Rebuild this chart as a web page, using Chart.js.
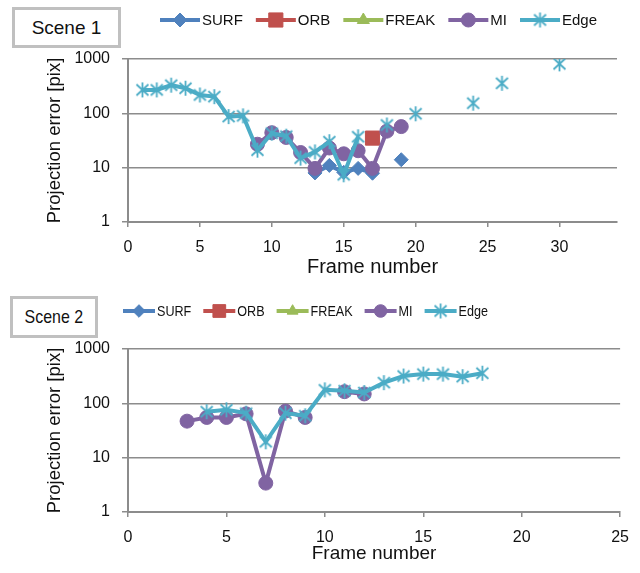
<!DOCTYPE html>
<html>
<head>
<meta charset="utf-8">
<script src="https://cdn.jsdelivr.net/npm/chart.js@4.4.0/dist/chart.umd.min.js"></script>
<style>
body { margin: 0; background: #fff; width: 640px; height: 573px; position: relative; overflow: hidden; font-family: "Liberation Sans", Arial, sans-serif; }
.wrap { position: absolute; left: 0; width: 640px; }
#w1 { top: 0; height: 285px; }
#w2 { top: 285px; height: 288px; }
.scene { position: absolute; border: 3px solid #c0c0c0; background: #fff; box-sizing: border-box; text-align: center; color: #111; }
#s1 { left: 12px; top: 7px; width: 109px; height: 41px; font-size: 19px; line-height: 35px; }
#s2 { left: 10px; top: 296px; width: 88px; height: 42px; font-size: 19px; line-height: 36px; }
#s2 span { display: inline-block; transform: scaleX(0.84); }
</style>
</head>
<body>
<div class="wrap" id="w1"><canvas id="c1" width="640" height="285"></canvas></div>
<div class="wrap" id="w2"><canvas id="c2" width="640" height="288"></canvas></div>
<div class="scene" id="s1">Scene 1</div>
<div class="scene" id="s2"><span>Scene 2</span></div>
<script>
// series names and colours
const seriesNames = ['SURF', 'ORB', 'FREAK', 'MI', 'Edge'];
const seriesColors = ['#4f81bd', '#c0504d', '#9bbb59', '#8064a2', '#4bacc6'];
const yTicks = [1, 10, 100, 1000];

// Scene 1 (frames 1..30)
const frames1 = [1, 2, 3, 4, 5, 6, 7, 8, 9, 10, 11, 12, 13, 14, 15, 16, 17, 18, 19, 20, 21, 22, 23, 24, 25, 26, 27, 28, 29, 30];
const surf1 = [null, null, null, null, null, null, null, null, null, null, null, null, 8, 11, 8.2, 9.7, 7.9, null, 14, null, null, null, null, null, null, null, null, null, null, null];
const orb1 = [null, null, null, null, null, null, null, null, null, null, null, null, null, null, null, null, 35, null, null, null, null, null, null, null, null, null, null, null, null, null];
const freak1 = [];
const mi1 = [null, null, null, null, null, null, null, null, 27, 44, 36, 19, 9.7, 23, 18, 20.5, 9.7, 47, 57, null, null, null, null, null, null, null, null, null, null, null];
const edge1 = [270, 270, 330, 290, 218, 203, 87, 90, 21, 43, 38, 15, 19.5, 30, 7.4, 37, null, 61, null, 98, null, null, null, 154, null, 357, null, null, null, 815];

// Scene 2 (frames 1..18)
const frames2 = [1, 2, 3, 4, 5, 6, 7, 8, 9, 10, 11, 12, 13, 14, 15, 16, 17, 18];
const surf2 = [];
const orb2 = [];
const freak2 = [];
const mi2 = [null, null, 47, 55, 55, 64, 3.4, 72, 55, null, 164, 149, null, null, null, null, null, null];
const edge2 = [null, null, null, 70, 76, 66, 19.6, 66, 59, 177, 170, 158, 240, 318, 345, 345, 310, 358];

function asterisk(color) {
    const c = document.createElement('canvas');
    c.width = 17; c.height = 17;
    const g = c.getContext('2d');
    g.strokeStyle = color;
    g.lineWidth = 1.8;
    g.beginPath();
    g.moveTo(8.5, 1); g.lineTo(8.5, 16);
    g.moveTo(2.5, 3); g.lineTo(14.5, 14);
    g.moveTo(14.5, 3); g.lineTo(2.5, 14);
    g.stroke();
    return c;
}

const styles = [
    { pointStyle: 'rectRot', pointRadius: 7 },
    { pointStyle: 'rect', pointRadius: 10 },
    { pointStyle: 'triangle', pointRadius: 7 },
    { pointStyle: 'circle', pointRadius: 7 },
    { pointStyle: asterisk(seriesColors[4]), pointRadius: 8 }
];

function makeDatasets(frames, lists) {
    return lists.map((vals, i) => ({
        label: seriesNames[i],
        data: frames.map((f, k) => ({ x: f, y: vals[k] === undefined ? null : vals[k] })),
        borderColor: seriesColors[i],
        backgroundColor: seriesColors[i],
        borderWidth: 4,
        pointBorderWidth: 1,
        pointStyle: styles[i].pointStyle,
        pointRadius: styles[i].pointRadius,
        pointHoverRadius: styles[i].pointRadius,
        spanGaps: false,
        tension: 0,
        order: 5 - i
    }));
}

// legend with line + marker, drawn like the spreadsheet one
const lineLegend = {
    id: 'lineLegend',
    afterDraw(chart, args, opts) {
        const ctx = chart.ctx;
        let x = opts.x;
        const y = opts.y;
        ctx.save();
        ctx.font = opts.font;
        ctx.textBaseline = 'middle';
        chart.data.datasets.forEach(ds => {
            ctx.strokeStyle = ds.borderColor;
            ctx.lineWidth = 4;
            ctx.beginPath();
            ctx.moveTo(x, y);
            ctx.lineTo(x + opts.lineLen, y);
            ctx.stroke();
            ctx.fillStyle = ds.backgroundColor;
            ctx.lineWidth = 1;
            Chart.helpers.drawPoint(ctx, { pointStyle: ds.pointStyle, radius: ds.pointRadius * opts.marker, borderWidth: 1, rotation: 0 }, x + opts.lineLen / 2, y);
            const tx = x + opts.lineLen + 2;
            ctx.fillStyle = '#111';
            ctx.save();
            ctx.translate(tx, y);
            ctx.scale(opts.squeeze, 1);
            ctx.fillText(ds.label, 0, 1);
            ctx.restore();
            x = tx + ctx.measureText(ds.label).width * opts.squeeze + opts.gap;
        });
        ctx.restore();
    }
};

Chart.defaults.font.family = '"Liberation Sans", Arial, sans-serif';
Chart.defaults.color = '#111';

function makeChart(id, frames, lists, cfg) {
    return new Chart(document.getElementById(id), {
        type: 'line',
        data: { datasets: makeDatasets(frames, lists) },
        plugins: [lineLegend],
        options: {
            responsive: false,
            animation: false,
            events: [],
            layout: { padding: { top: cfg.top, right: cfg.right, bottom: 0, left: 0 } },
            plugins: {
                legend: { display: false },
                tooltip: { enabled: false },
                lineLegend: cfg.legend
            },
            scales: {
                x: {
                    type: 'linear',
                    min: 0,
                    max: cfg.xMax,
                    ticks: { stepSize: 5, includeBounds: false, font: { size: 16 }, padding: 11, maxRotation: 0 },
                    grid: { drawOnChartArea: false, drawTicks: true, tickLength: 5, color: '#8c8c8c', lineWidth: 1.5 },
                    border: { display: true, color: '#8c8c8c', width: 2 },
                    title: { display: true, text: 'Frame number', font: { size: cfg.xTitleSize }, padding: { top: 0, bottom: cfg.titlePad } },
                    afterFit: s => { s.height = cfg.xHeight; }
                },
                y: {
                    type: 'logarithmic',
                    min: 1,
                    max: 1000,
                    afterBuildTicks: s => { s.ticks = yTicks.map(v => ({ value: v })); },
                    ticks: { callback: v => String(v), font: { size: 16 }, padding: 12 },
                    grid: { color: '#8c8c8c', lineWidth: 1.5, tickLength: 6 },
                    border: { display: true, color: '#8c8c8c', width: 2 },
                    title: { display: true, text: 'Projection error [pix]', font: { size: 18.5 }, padding: { top: 44, bottom: 0 } },
                    afterFit: s => { s.width = 128; }
                }
            }
        }
    });
}

makeChart('c1', frames1, [surf1, orb1, freak1, mi1, edge1], {
    top: 59, right: 23, xMax: 34, xHeight: 63, titlePad: 6, xTitleSize: 20,
    legend: { x: 160, y: 20, lineLen: 40, gap: 13, squeeze: 1, marker: 1, font: '15px "Liberation Sans", Arial, sans-serif' }
});

makeChart('c2', frames2, [surf2, orb2, freak2, mi2, edge2], {
    top: 64, right: 18, xMax: 25, xHeight: 61, titlePad: 8, xTitleSize: 19,
    legend: { x: 123, y: 26, lineLen: 32, gap: 12, squeeze: 0.84, marker: 0.9, font: '15px "Liberation Sans", Arial, sans-serif' }
});
</script>
</body>
</html>
